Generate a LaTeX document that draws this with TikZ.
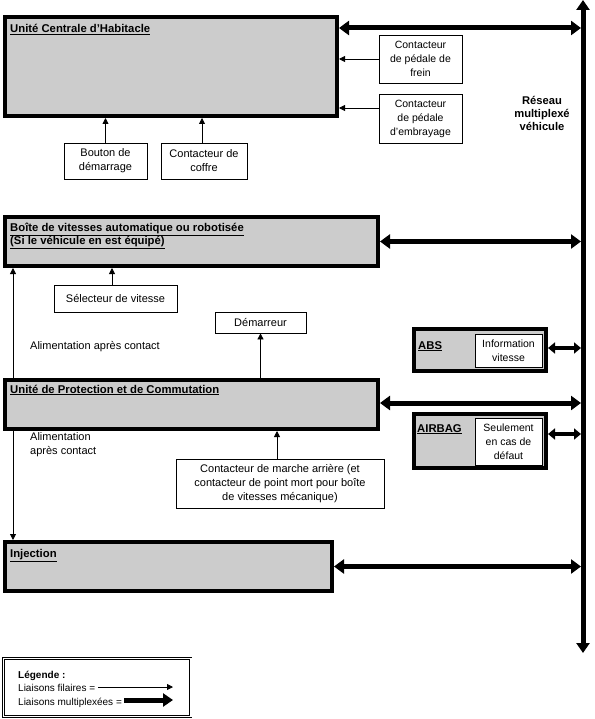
\documentclass[tikz,border=0pt]{standalone}
\usepackage{fontspec}
\setmainfont{Liberation Sans}
\usetikzlibrary{arrows.meta}
\begin{document}
\begin{tikzpicture}[x=1pt,y=-1pt,
  every node/.style={font=\fontsize{11}{14}\selectfont, inner sep=0pt},
  small/.style={font=\fontsize{10.5}{14}\selectfont},
  ecu/.style={draw, line width=4pt, fill=black!20, rectangle},
  box/.style={draw, line width=0.8pt, fill=white, rectangle, align=center},
  ttl/.style={font=\fontsize{11.3}{13}\selectfont\bfseries, anchor=base west, align=left},
  lbl/.style={anchor=base west, align=left},
  leglbl/.style={anchor=base west, align=left, font=\fontsize{10}{12}\selectfont},
  wire/.style={line width=0.8pt, -{Triangle[length=6pt,width=6pt]}},
  mux/.style={line width=5pt, {Triangle[length=10pt,width=14pt]}-{Triangle[length=10pt,width=14pt]}},
  muxs/.style={line width=4pt, {Triangle[length=7pt,width=11pt]}-{Triangle[length=7pt,width=11pt]}}
]
\useasboundingbox (0,0) rectangle (594,719);

% bus
\coordinate (bustop) at (583,0);
\coordinate (busbot) at (583,653);
\coordinate (busL) at (581,0);
\draw[line width=5pt, {Triangle[length=10pt,width=13pt]}-{Triangle[length=10pt,width=13pt]}] (bustop) -- (busbot);
\node[font=\fontsize{11.2}{13}\selectfont\bfseries, align=center] (reseau) at (542,113) {Réseau\\multiplexé\\véhicule};

% ECU boxes
\node[ecu, minimum width=332pt, minimum height=99pt] (uch) at (171,66.5) {};
\node[ecu, minimum width=373pt, minimum height=49pt] (bv) at (191.5,241.5) {};
\node[ecu, minimum width=373pt, minimum height=49pt] (upc) at (191.5,404.5) {};
\node[ecu, minimum width=327pt, minimum height=49pt] (inj) at (168.5,566.5) {};
\node[ecu, minimum width=132pt, minimum height=42pt] (abs) at (480,350) {};
\node[ecu, minimum width=132pt, minimum height=54pt] (airbag) at (480,441) {};

% titles
\node[ttl] (tuch) at (10,33) {\underline{Unité Centrale d'Habitacle}};
\node[ttl] (tbv1) at (10,231) {\underline{Boîte de vitesses automatique ou robotisée}};
\node[ttl] (tbv2) at (10,244) {\underline{(Si le véhicule en est équipé)}};
\node[ttl] (tupc) at (10,393) {\underline{Unité de Protection et de Commutation}};
\node[ttl] (tinj) at (10,557) {\underline{Injection}};
\node[ttl] (tabs) at (418,349) {\underline{ABS}};
\node[ttl] (tair) at (417,432) {\underline{AIRBAG}};

% thin boxes
\node[box, small, minimum width=83pt, minimum height=48pt] (frein) at (420.5,59) {Contacteur\\de pédale de\\frein};
\node[box, small, minimum width=83pt, minimum height=49pt] (embr) at (420.5,118.5) {Contacteur\\de pédale\\d'embrayage};
\node[box, minimum width=83pt, minimum height=36pt] (bouton) at (105.5,161) {Bouton de\\démarrage};
\node[box, minimum width=86pt, minimum height=36pt] (coffre) at (204,161) {Contacteur de\\coffre};
\node[box, minimum width=123pt, minimum height=27pt] (selec) at (115.5,298.5) {Sélecteur de vitesse};
\node[box, minimum width=91pt, minimum height=21pt] (dem) at (260.5,322.5) {Démarreur};
\node[box, minimum width=208pt, minimum height=49pt] (marche) at (280,483.5) {Contacteur de marche arrière (et\\contacteur de point mort pour boîte\\de vitesses mécanique)};
\node[box, small, minimum width=67pt, minimum height=33pt] (info) at (508.5,350.5) {Information\\vitesse};
\node[box, small, minimum width=67pt, minimum height=47pt] (seul) at (508.5,441.5) {Seulement\\en cas de\\défaut};

% free labels
\node[lbl] (alim1) at (30,349) {Alimentation après contact};
\node[lbl] (alim2) at (30,454) {Alimentation\\après contact};

% wire connectors
\draw[wire] (frein.west) -- (frein.west -| uch.east);
\coordinate (e1) at ([yshift=10.5pt]embr.west);
\draw[wire] (e1) -- (e1 -| uch.east);
\draw[wire] (bouton.north) -- (bouton.north |- uch.south);
\coordinate (c1) at ([xshift=-2pt]coffre.north);
\draw[wire] (c1) -- (c1 |- uch.south);
\coordinate (s1) at ([xshift=-3.5pt]selec.north);
\draw[wire] (s1) -- (s1 |- bv.south);
\draw[wire] (dem.south |- upc.north) -- (dem.south);
\coordinate (m1) at ([xshift=-3pt]marche.north);
\draw[wire] (m1) -- (m1 |- upc.south);
\draw[wire] ([xshift=10pt]upc.north west) -- ([xshift=10pt]bv.south west);
\draw[wire] ([xshift=10pt]upc.south west) -- ([xshift=10pt]inj.north west);

% multiplexed connectors
\coordinate (u1) at ([yshift=-13pt]uch.north east);
\draw[mux] (u1) -- (u1 -| busL);
\draw[mux] (bv.east) -- (bv.east -| busL);
\coordinate (p1) at ([yshift=1.5pt]upc.east);
\draw[mux] (p1) -- (p1 -| busL);
\draw[mux] (inj.east) -- (inj.east -| busL);
\coordinate (a1) at ([yshift=2pt]abs.east);
\draw[muxs] (a1) -- (a1 -| busL);
\coordinate (a2) at ([yshift=7pt]airbag.east);
\draw[muxs] (a2) -- (a2 -| busL);

% legend
\node[draw, double, double distance=1.5pt, line width=0.6pt, minimum width=187.5pt, minimum height=58.3pt] (leg) at (97,687.5) {};
\node[leglbl, font=\fontsize{10}{12}\selectfont\bfseries] (legt) at (18,678) {Légende :};
\node[leglbl] (leg1) at (18,691) {Liaisons filaires =};
\node[leglbl] (leg2) at (18,705) {Liaisons multiplexées =};
\coordinate (l1a) at (98,687);
\coordinate (l1b) at (173,687);
\coordinate (l2a) at (124,700);
\coordinate (l2b) at (173,700);
\draw[wire] (l1a) -- (l1b);
\draw[line width=5pt, -{Triangle[length=10pt,width=13pt]}] (l2a) -- (l2b);
\end{tikzpicture}
\end{document}
